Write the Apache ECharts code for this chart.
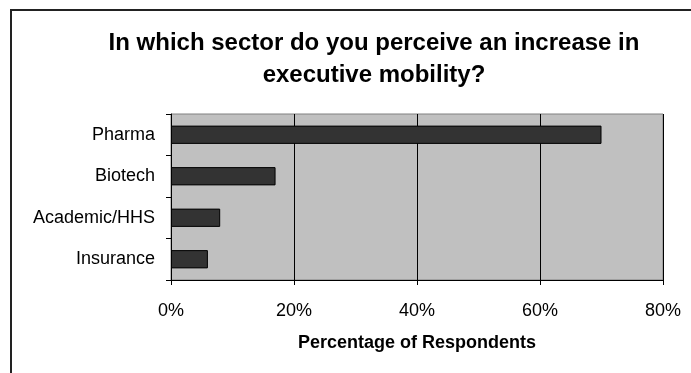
<!DOCTYPE html>
<html>
<head>
  <meta charset='utf-8'>
  <script src="https://cdn.jsdelivr.net/npm/echarts@6/dist/echarts.min.js"></script>
  <title>Executive mobility</title>
  <style>
    html, body { margin: 0; padding: 0; background: #fff; }
    #frame {
      position: absolute; left: 10px; top: 9px; width: 720px; height: 400px;
      border: 2px solid #222; box-sizing: border-box;
    }
  </style>
</head>
<body>
<div id="frame"></div>
<div id="chart" style="position:absolute;left:0;top:0;width:691px;height:373px;"></div>
<script type="text/javascript">
  // categories top to bottom
  var sectors = ['Pharma', 'Biotech', 'Academic/HHS', 'Insurance'];
  var percents = [70, 17, 8, 6];
  var tickValues = [0, 20, 40, 60, 80];

  var myChart = echarts.init(document.getElementById('chart'));

  var option = {
    animation: false,
    title: {
      text: 'In which sector do you perceive an increase in\nexecutive mobility?',
      left: 369,
      top: 22,
      textAlign: 'center',
      textStyle: {
        fontFamily: 'Liberation Sans',
        fontSize: 24,
        fontWeight: 'bold',
        color: '#000',
        lineHeight: 32
      }
    },
    grid: {
      left: 171,
      right: 28,
      top: 114,
      bottom: 93,
      show: true,
      backgroundColor: '#c0c0c0',
      borderColor: '#808080',
      borderWidth: 1
    },
    xAxis: {
      type: 'value',
      min: 0,
      max: 80,
      interval: 20,
      name: 'Percentage of Respondents',
      nameLocation: 'middle',
      nameGap: 54,
      nameTextStyle: {
        fontFamily: 'Liberation Sans',
        fontSize: 18,
        fontWeight: 'bold',
        color: '#000'
      },
      axisLine: { show: true, lineStyle: { color: '#000', width: 1 } },
      axisTick: { show: true, length: 5, inside: false, lineStyle: { color: '#000' } },
      axisLabel: {
        margin: 22,
        fontFamily: 'Liberation Sans',
        fontSize: 18,
        color: '#000',
        formatter: function (v) { return tickValues.indexOf(v) >= 0 ? v + '%' : ''; }
      },
      splitLine: { show: true, lineStyle: { color: '#000', width: 1 } }
    },
    yAxis: {
      type: 'category',
      inverse: true,
      data: sectors,
      axisLine: { show: true, lineStyle: { color: '#000', width: 1 } },
      axisTick: { show: true, length: 5, lineStyle: { color: '#000' } },
      axisLabel: {
        margin: 16,
        fontFamily: 'Liberation Sans',
        fontSize: 18,
        color: '#000'
      }
    },
    series: [{
      type: 'bar',
      data: percents,
      barWidth: '44%',
      itemStyle: {
        color: '#333333',
        borderColor: '#000',
        borderWidth: 1
      }
    }]
  };
  myChart.setOption(option);
</script>
</body>
</html>
